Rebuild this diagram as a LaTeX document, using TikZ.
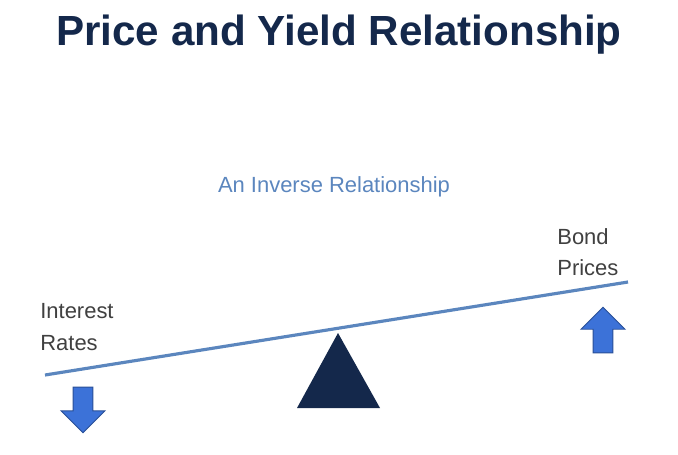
\documentclass[tikz,border=0pt]{standalone}
\usepackage{fontspec}
\setmainfont{Liberation Sans}
\usetikzlibrary{positioning,shapes.arrows}
\definecolor{navy}{HTML}{14284B}
\definecolor{steel}{HTML}{5B86BE}
\definecolor{arrowblue}{HTML}{3C72D8}
\definecolor{textgray}{HTML}{404040}
\begin{document}
\begin{tikzpicture}[x=0.02cm,y=-0.02cm,
  label text/.style={font=\fontsize{12.5}{16}\selectfont,text=textgray,align=left,inner sep=0pt},
  move arrow/.style={single arrow,draw=arrowblue!70!black,fill=arrowblue,line width=0.5pt,
    minimum width=25pt,single arrow head extend=4pt,minimum height=26pt,inner sep=3pt}]
  \useasboundingbox (0,0) rectangle (678,454);

  % Title and subtitle
  \node[font=\fontsize{24}{28}\bfseries,text=navy] (title) at (339,35) {Price and Yield Relationship};
  \node[font=\fontsize{12.5}{16}\selectfont,text=steel] (subtitle) at (334,187) {An Inverse Relationship};

  % Seesaw
  \coordinate (left) at (45,375);
  \coordinate (right) at (628,282);
  \draw[steel,line width=1.8pt] (left) -- (right);
  \fill[navy] (338,333) -- (380,408) -- (297,408) -- cycle;

  % Labels
  \node[label text,anchor=west] (rates) at (40,327) {Interest\\[2pt]Rates};
  \node[label text,anchor=west] (prices) at (557,252) {Bond\\[2pt]Prices};

  % Arrows
  \node[move arrow,shape border rotate=270] (down) at (83,405) {};
  \node[move arrow,shape border rotate=90] (up) at (603,335) {};
\end{tikzpicture}
\end{document}
